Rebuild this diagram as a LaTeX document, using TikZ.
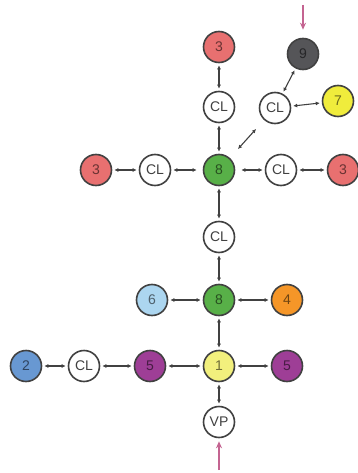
\documentclass[tikz,border=0pt]{standalone}
\usepackage{fontspec}
\setmainfont{Liberation Sans}
\usetikzlibrary{arrows.meta,positioning}
\definecolor{edgeink}{RGB}{65,65,65}
\definecolor{signal}{RGB}{196,100,145}
\definecolor{cred}{RGB}{232,112,112}
\definecolor{cgreen}{RGB}{88,176,72}
\definecolor{cgray}{RGB}{85,85,88}
\definecolor{cyellow}{RGB}{240,236,60}
\definecolor{cpale}{RGB}{242,240,125}
\definecolor{csky}{RGB}{172,214,240}
\definecolor{corange}{RGB}{245,150,40}
\definecolor{cpurple}{RGB}{158,62,150}
\definecolor{cblue}{RGB}{104,152,210}

\begin{document}
\begin{tikzpicture}[x=1pt,y=-1pt,
    ball/.style={circle,draw=edgeink,line width=1.6pt,minimum size=31pt,
      inner sep=0pt,font=\fontsize{14}{14}\selectfont},
    hub/.style={ball,fill=#1,text=#1!45!black},
    cl/.style={ball,fill=white,text=edgeink},
    link/.style={{Latex[length=4pt,width=4pt]}-{Latex[length=4pt,width=4pt]},
      draw=edgeink,line width=1.1pt,shorten >=2pt,shorten <=2pt},
    feed/.style={-{Stealth[length=7pt,width=6pt]},draw=signal,line width=1.3pt}]
  \useasboundingbox (0,0) rectangle (358,473);

  % upper cross
  \node[hub=cred]    (topThree)   at (219,47)  {3};
  \node[cl]          (topCL)      at (219,107) {CL};
  \node[hub=cgray]   (nine)       at (303,54)  {9};
  \node[cl]          (sideCL)     at (275,108) {CL};
  \node[hub=cyellow] (seven)      at (338,101) {7};
  \node[hub=cgreen]  (upperEight) at (219,170) {8};
  \node[hub=cred]    (leftThree)  at (96,170)  {3};
  \node[cl]          (leftCL)     at (155,170) {CL};
  \node[cl]          (rightCL)    at (281,170) {CL};
  \node[hub=cred]    (rightThree) at (343,170) {3};
  \node[cl]          (midCL)      at (219,237) {CL};

  % lower cross
  \node[hub=cgreen]  (lowerEight) at (219,300) {8};
  \node[hub=csky]    (six)        at (152,300) {6};
  \node[hub=corange] (four)       at (287,300) {4};
  \node[hub=cpale]   (one)        at (219,366) {1};
  \node[hub=cpurple] (leftFive)   at (150,366) {5};
  \node[cl]          (lowCL)      at (84,366)  {CL};
  \node[hub=cblue]   (two)        at (26,366)  {2};
  \node[hub=cpurple] (rightFive)  at (287,366) {5};
  \node[cl]          (vp)         at (219,422) {VP};

  \coordinate (nineIn)  at (303,5);
  \coordinate (vpIn)    at (219,470);

  \draw[link] (topThree) -- (topCL);
  \draw[link] (topCL) -- (upperEight);
  \draw[link,shorten >=12pt,shorten <=12pt] (upperEight) -- (sideCL);
  \draw[link] (sideCL) -- (nine);
  \draw[link] (sideCL) -- (seven);
  \draw[link] (leftThree) -- (leftCL);
  \draw[link,shorten >=6pt] (leftCL) -- (upperEight);
  \draw[link,shorten <=6pt] (upperEight) -- (rightCL);
  \draw[link] (rightCL) -- (rightThree);
  \draw[link] (upperEight) -- (midCL);
  \draw[link] (midCL) -- (lowerEight);
  \draw[link] (six) -- (lowerEight);
  \draw[link] (lowerEight) -- (four);
  \draw[link] (lowerEight) -- (one);
  \draw[link] (two) -- (lowCL);
  \draw[link] (lowCL) -- (leftFive);
  \draw[link] (leftFive) -- (one);
  \draw[link] (one) -- (rightFive);
  \draw[link] (one) -- (vp);

  \draw[feed,shorten >=8pt] (nineIn) -- (nine);
  \draw[feed,shorten >=3pt] (vpIn) -- (vp);
\end{tikzpicture}
\end{document}
